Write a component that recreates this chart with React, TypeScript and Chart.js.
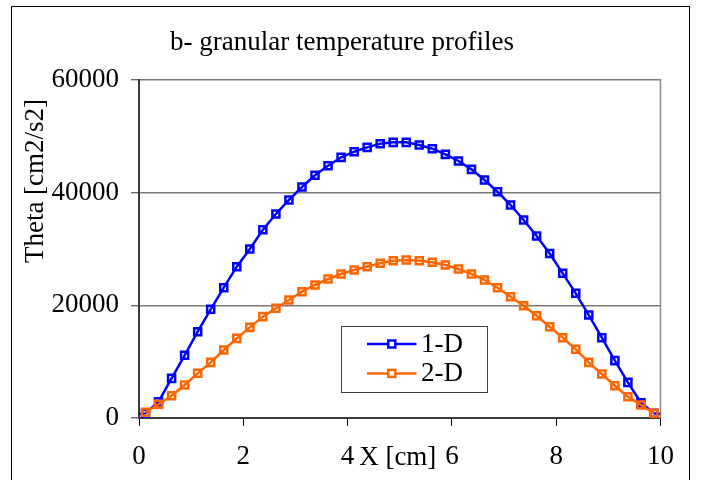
import React, { useEffect, useRef } from 'react';
import { Chart, registerables } from 'chart.js';

Chart.register(...registerables);

const chartTitle = 'b- granular temperature profiles';
const yAxisTitle = 'Theta [cm2/s2]';
const xAxisTitle = 'X [cm]';
const seriesNames = ['1-D', '2-D'];
const seriesColors = ['#0000FF', '#FF6600'];

const xCells = [
  0.125, 0.375, 0.625, 0.875, 1.125, 1.375, 1.625, 1.875, 2.125, 2.375,
  2.625, 2.875, 3.125, 3.375, 3.625, 3.875, 4.125, 4.375, 4.625, 4.875,
  5.125, 5.375, 5.625, 5.875, 6.125, 6.375, 6.625, 6.875, 7.125, 7.375,
  7.625, 7.875, 8.125, 8.375, 8.625, 8.875, 9.125, 9.375, 9.625, 9.875,
];

const theta1D = [
  830, 2900, 7040, 11130, 15320, 19290, 23130, 26860, 30000, 33420,
  36210, 38700, 41000, 43080, 44790, 46270, 47270, 48040, 48690, 48930,
  48930, 48460, 47800, 46800, 45620, 44140, 42250, 40170, 37810, 35150,
  32300, 29200, 25680, 22130, 18280, 14260, 10180, 6330, 2720, 830,
];

const theta2D = [
  1010, 2430, 3960, 5860, 7930, 9880, 12070, 14140, 16090, 17990,
  19470, 20950, 22420, 23610, 24670, 25560, 26270, 26860, 27460, 27920,
  28050, 27920, 27640, 27160, 26450, 25560, 24500, 23130, 21530, 19930,
  18160, 16210, 14260, 12190, 9880, 7810, 5730, 3780, 2310, 830,
];

// wall values of the 1-D profile (drawn as line ends, no marker)
const wallX = [0, 10];
const wall1D = [700, 700];

const xTicks = [0, 2, 4, 6, 8, 10];
const yTicks = [0, 20000, 40000, 60000];

const FONT = '"Liberation Serif", "Times New Roman", serif';
const FS = 27;

const decor = {
  id: 'decor',
  beforeDatasetsDraw(chart: any) {
    const { ctx, chartArea: a } = chart;
    ctx.save();
    ctx.strokeStyle = '#8a8a8a';
    ctx.lineWidth = 1.5;
    ctx.beginPath();
    ctx.moveTo(a.right, a.top - 1);
    ctx.lineTo(a.right, a.bottom);
    ctx.stroke();
    ctx.restore();
  },
  afterDraw(chart: any) {
    const { ctx, chartArea: a } = chart;
    ctx.save();
    ctx.fillStyle = '#000';
    ctx.font = `${FS}px ${FONT}`;
    ctx.textAlign = 'center';
    ctx.textBaseline = 'middle';
    // x axis title between tick labels
    ctx.fillText(xAxisTitle, (a.left + a.right) / 2 - 2, a.bottom + 40);
    // y axis title
    ctx.save();
    ctx.translate(24, a.top + 101);
    ctx.rotate(-Math.PI / 2);
    ctx.fillText(yAxisTitle, 0, 0);
    ctx.restore();

    // legend box
    const bx = Math.round(a.left + 202) + 0.5;
    const by = Math.round(a.top + 246) + 0.5;
    const bw = 146;
    const bh = 66;
    ctx.fillStyle = '#fff';
    ctx.fillRect(bx, by, bw, bh);
    ctx.strokeStyle = '#404040';
    ctx.lineWidth = 1;
    ctx.strokeRect(bx, by, bw, bh);
    chart.data.datasets.forEach((ds: any, i: number) => {
      const cy = by + 17.5 + i * 29.4;
      ctx.strokeStyle = ds.borderColor;
      ctx.lineWidth = 2.5;
      ctx.beginPath();
      ctx.moveTo(bx + 25.5, cy);
      ctx.lineTo(bx + 75, cy);
      ctx.stroke();
      ctx.fillStyle = '#fff';
      ctx.fillRect(bx + 50.3 - 3.5, cy - 3.5, 7, 7);
      ctx.strokeRect(bx + 50.3 - 3.5, cy - 3.5, 7, 7);
      ctx.fillStyle = '#000';
      ctx.textAlign = 'left';
      ctx.fillText(ds.label, bx + 79.5, cy + 1);
    });
    ctx.restore();
  },
};

export default function App() {
  const ref = useRef<HTMLCanvasElement | null>(null);

  useEffect(() => {
    if (!ref.current) return;
    const blueData = [
      { x: wallX[0], y: wall1D[0] },
      ...xCells.map((x, i) => ({ x, y: theta1D[i] })),
      { x: wallX[1], y: wall1D[1] },
    ];
    const blueRadius = blueData.map((_, i) => (i === 0 || i === blueData.length - 1 ? 0 : 5));
    const orangeData = xCells.map((x, i) => ({ x, y: theta2D[i] }));

    const chart = new Chart(ref.current, {
      type: 'line',
      data: {
        datasets: [
          {
            label: seriesNames[0],
            data: blueData,
            borderColor: seriesColors[0],
            backgroundColor: seriesColors[0],
            borderWidth: 2.5,
            pointStyle: 'rect',
            pointRadius: blueRadius,
            pointBorderWidth: 2.5,
            pointBorderColor: seriesColors[0],
            pointBackgroundColor: 'rgba(255,255,255,0)',
            tension: 0,
            order: 2,
          },
          {
            label: seriesNames[1],
            data: orangeData,
            borderColor: seriesColors[1],
            backgroundColor: seriesColors[1],
            borderWidth: 2.5,
            pointStyle: 'rect',
            pointRadius: 5,
            pointBorderWidth: 2.5,
            pointBorderColor: seriesColors[1],
            pointBackgroundColor: 'rgba(255,255,255,0)',
            tension: 0,
            order: 1,
          },
        ],
      },
      options: {
        responsive: false,
        animation: false,
        events: [],
        layout: { padding: { left: 0, right: 17, top: 0, bottom: 0 } },
        plugins: {
          legend: { display: false },
          tooltip: { enabled: false },
          title: {
            display: true,
            text: chartTitle,
            color: '#000',
            font: { family: FONT, size: FS, weight: 'normal' },
            padding: { top: 20, bottom: 20.6 },
          },
        },
        scales: {
          x: {
            type: 'linear',
            min: 0,
            max: 10,
            afterBuildTicks: (s: any) => {
              s.ticks = xTicks.map((v) => ({ value: v }));
            },
            afterFit: (s: any) => {
              s.height = 77;
            },
            ticks: {
              color: '#000',
              font: { family: FONT, size: FS },
              padding: 15,
              maxRotation: 0,
              autoSkip: false,
              callback: (v: any) => String(v),
            },
            grid: {
              drawOnChartArea: false,
              drawTicks: true,
              tickLength: 8,
              tickColor: '#000',
              tickWidth: 1,
            },
            border: { display: true, color: '#3a3a3a', width: 2 },
          },
          y: {
            type: 'linear',
            min: 0,
            max: 60000,
            afterBuildTicks: (s: any) => {
              s.ticks = yTicks.map((v) => ({ value: v }));
            },
            afterFit: (s: any) => {
              s.width = 127;
            },
            ticks: {
              color: '#000',
              font: { family: FONT, size: FS },
              padding: 12,
              autoSkip: false,
              callback: (v: any) => String(v),
            },
            grid: {
              color: (c: any) => (c.tick && c.tick.value === 0 ? 'rgba(0,0,0,0)' : '#7a7a7a'),
              lineWidth: 1.5,
              drawTicks: true,
              tickLength: 8,
              tickColor: '#333',
              tickWidth: 1,
            },
            border: { display: true, color: '#3a3a3a', width: 2 },
          },
        },
      },
      plugins: [decor],
    });
    return () => chart.destroy();
  }, []);

  return (
    <div
      style={{
        position: 'absolute',
        left: 11,
        top: 6,
        width: 679,
        height: 490,
        border: '1px solid #000',
        boxSizing: 'border-box',
      }}
    >
      <canvas ref={ref} width={677} height={488} style={{ display: 'block', width: 677, height: 488 }} />
    </div>
  );
}
